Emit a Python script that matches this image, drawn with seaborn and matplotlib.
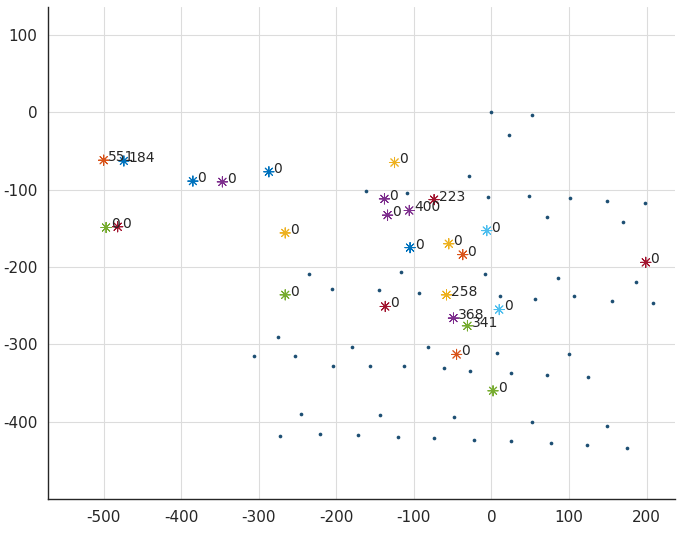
import pandas as pd
import matplotlib.pyplot as plt
import seaborn as sns

# small blue dots (all grid nodes)
dot_x = [0, 52, 23, -29, -5, 48, 101, 149, 198, 72, 170, -162, -109,
         -8, 86, 186, 11, 56, 107, 156, 208, -235, -205, -117, -145, -93,
         7, 100, -28, 25, 72, 125, -275, -306, -253, -180, -82, -204, -156,
         -113, -61, -246, -144, -48, 52, 149, -273, -221, -172, -120, -74,
         -23, 25, 77, 123, 175]
dot_y = [0, -3, -30, -82, -110, -108, -111, -115, -117, -136, -142, -102, -105,
         -209, -214, -220, -238, -241, -238, -244, -246, -209, -229, -207, -230, -234,
         -311, -313, -334, -337, -339, -342, -290, -315, -315, -304, -303, -328, -328,
         -328, -330, -390, -391, -394, -400, -405, -418, -416, -417, -420, -421,
         -423, -425, -427, -430, -434]

# asterisk markers with their labels
star_x = [-500, -474, -385, -347, -287, -497, -482, -266, -266, -125, -138, -134, -106,
          -74, -6, -105, -55, -37, -58, -49, -31, 10, -137, -45, 2, 199]
star_y = [-62, -63, -89, -90, -77, -149, -148, -156, -236, -65, -112, -133, -127,
          -113, -153, -175, -170, -184, -236, -266, -276, -255, -251, -313, -360, -194]
star_color = ['orange', 'blue', 'blue', 'purple', 'blue', 'green', 'darkred', 'yellow',
              'green', 'yellow', 'purple', 'purple', 'purple', 'darkred', 'lightblue',
              'blue', 'yellow', 'orange', 'yellow', 'purple', 'green', 'lightblue',
              'darkred', 'orange', 'green', 'darkred']
star_label = ['551', '184', '0', '0', '0', '0', '0', '0', '0', '0', '0', '0', '400',
              '223', '0', '0', '0', '0', '258', '368', '341', '0', '0', '0', '0', '0']

palette = {
    'blue': (0.0, 0.447, 0.741),
    'orange': (0.850, 0.325, 0.098),
    'yellow': (0.929, 0.694, 0.125),
    'purple': (0.494, 0.184, 0.556),
    'green': (0.466, 0.674, 0.188),
    'lightblue': (0.301, 0.745, 0.933),
    'darkred': (0.635, 0.078, 0.184),
}

dots = pd.DataFrame({'x': dot_x, 'y': dot_y})
stars = pd.DataFrame({'x': star_x, 'y': star_y, 'c': star_color, 'label': star_label})

sns.set_style('whitegrid')
plt.rcParams['font.family'] = ['DejaVu Sans']
plt.rcParams['axes.unicode_minus'] = False

fig = plt.figure(figsize=(6.94, 5.35), dpi=100)
ax = fig.add_axes([0.069, 0.067, 0.904, 0.92])

sns.scatterplot(data=dots, x='x', y='y', ax=ax, color='#1d4f73', marker='o',
                s=7, linewidth=0, legend=False, zorder=3)
sns.scatterplot(data=stars, x='x', y='y', hue='c', palette=palette, ax=ax,
                marker=(8, 2, 0), s=55, linewidth=0.7, legend=False, zorder=4)

for _, row in stars.iterrows():
    ax.text(row['x'] + 6, row['y'] + 4, row['label'], fontsize=10,
            color='#262626', ha='left', va='center', zorder=5)

ax.set_xlim(-572, 237)
ax.set_ylim(-500, 136)
ax.set_xticks(range(-500, 201, 100))
ax.set_yticks(range(-400, 101, 100))
ax.set_xlabel('')
ax.set_ylabel('')

ax.grid(True, color='#dcdcdc', linewidth=0.8)
for side in ['top', 'right']:
    ax.spines[side].set_visible(False)
for side in ['left', 'bottom']:
    ax.spines[side].set_visible(True)
    ax.spines[side].set_color('#262626')
    ax.spines[side].set_linewidth(1.0)
ax.tick_params(axis='both', direction='out', length=4, width=0.8,
               color='#262626', labelsize=11, labelcolor='#262626')

fig.savefig('out.png', dpi=100)
